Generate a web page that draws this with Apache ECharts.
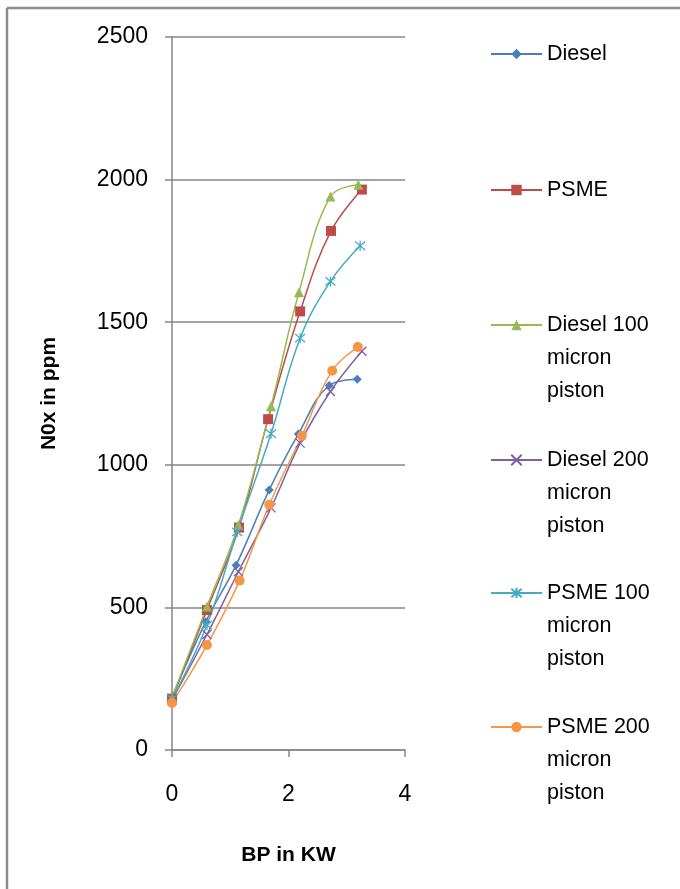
<!DOCTYPE html>
<html>
<head>
<meta charset="utf-8">
<script src="https://cdn.jsdelivr.net/npm/echarts@6/dist/echarts.min.js"></script>
<style>
  html, body { margin: 0; padding: 0; background: #fff; }
  #main { width: 680px; height: 889px; }
</style>
</head>
<body>
<div id="main"></div>
<script>
// BP in KW (x) and NOx in ppm (y) for each test
const dieselX = [0, 0.58, 1.1, 1.67, 2.17, 2.7, 3.18]
const dieselY = [185, 450, 648, 912, 1108, 1278, 1300]
const psmeX = [0, 0.6, 1.15, 1.65, 2.2, 2.73, 3.26]
const psmeY = [180, 491, 780, 1160, 1538, 1820, 1965]
const diesel100X = [0, 0.6, 1.14, 1.7, 2.18, 2.72, 3.2]
const diesel100Y = [183, 503, 789, 1205, 1605, 1941, 1982]
const diesel200X = [0, 0.6, 1.14, 1.7, 2.2, 2.72, 3.26]
const diesel200Y = [175, 405, 625, 849, 1076, 1257, 1398]
const psme100X = [0, 0.6, 1.12, 1.7, 2.2, 2.72, 3.23]
const psme100Y = [178, 438, 765, 1109, 1444, 1643, 1768]
const psme200X = [0, 0.6, 1.16, 1.67, 2.23, 2.75, 3.19]
const psme200Y = [165, 368, 594, 860, 1102, 1330, 1413]

const seriesNames = ['Diesel', 'PSME', 'Diesel 100 micron piston', 'Diesel 200 micron piston',
  'PSME 100 micron piston', 'PSME 200 micron piston']
const legendLabels = ['Diesel', 'PSME', 'Diesel 100\nmicron\npiston', 'Diesel 200\nmicron\npiston',
  'PSME 100\nmicron\npiston', 'PSME 200\nmicron\npiston']

const colors = ['#4a7ebb', '#be4b48', '#98b954', '#7d60a0', '#46aac5', '#f69546']
const symbols = ['diamond', 'rect', 'triangle',
  'path://M0,0L10,10M10,0L0,10',
  'path://M0,0L10,10M10,0L0,10M5,-1L5,11',
  'circle']
const symbolSizes = [9, 10, 10, 9, 10, 10]
const xs = [dieselX, psmeX, diesel100X, diesel200X, psme100X, psme200X]
const ys = [dieselY, psmeY, diesel100Y, diesel200Y, psme100Y, psme200Y]

const font = 'Liberation Sans, Arial, sans-serif'
const gray = '#868686'

const series = seriesNames.map((name, i) => ({
  name: name,
  type: 'line',
  smooth: 0.4,
  data: xs[i].map((x, k) => [x, ys[i][k]]),
  symbol: symbols[i],
  symbolSize: symbolSizes[i],
  showAllSymbol: true,
  lineStyle: { color: colors[i], width: 1.5 },
  itemStyle: { color: colors[i], borderColor: colors[i], borderWidth: (i === 3 || i === 4) ? 1.3 : 0 },
  emphasis: { disabled: true }
}))

// legend rows, icon centre y for each entry
const legendY = [54, 190, 325, 460, 593, 727]
const legends = seriesNames.map((name, i) => {
  const multi = legendLabels[i].indexOf('\n') >= 0
  return {
    data: [name],
    left: 490,
    top: multi ? legendY[i] - 82.5 : legendY[i] - 16.5,
    padding: 0,
    itemWidth: 51,
    itemHeight: 13,
    selectedMode: false,
    formatter: () => multi ? '\n\n' + legendLabels[i] : legendLabels[i],
    textStyle: { fontSize: 21.5, lineHeight: 33, color: '#000', fontFamily: font }
  }
})

const chart = echarts.init(document.getElementById('main'), null, { renderer: 'canvas' })
chart.setOption({
  animation: false,
  backgroundColor: '#fff',
  grid: { left: 172, top: 37, width: 233, height: 713, outerBoundsMode: 'none' },
  legend: legends,
  xAxis: {
    type: 'value',
    min: 0, max: 4, interval: 2,
    name: 'BP in KW',
    nameLocation: 'middle',
    nameGap: 95,
    nameTextStyle: { fontSize: 21, fontWeight: 'bold', color: '#000', fontFamily: font },
    axisLine: { show: true, lineStyle: { color: gray, width: 1.5 } },
    axisTick: { show: true, length: 7, lineStyle: { color: gray, width: 1.5 } },
    axisLabel: { fontSize: 23, color: '#000', margin: 33, fontFamily: font },
    splitLine: { show: false }
  },
  yAxis: {
    type: 'value',
    min: 0, max: 2500, interval: 500,
    name: 'N0x in ppm',
    nameLocation: 'middle',
    nameRotate: 90,
    nameGap: 112,
    nameTextStyle: { fontSize: 21, fontWeight: 'bold', color: '#000', fontFamily: font },
    axisLine: { show: true, lineStyle: { color: gray, width: 1.5 } },
    axisTick: { show: true, length: 7, lineStyle: { color: gray, width: 1.5 } },
    axisLabel: { fontSize: 23, color: '#000', margin: 24, fontFamily: font, formatter: v => String(v) },
    splitLine: { show: true, lineStyle: { color: gray, width: 1.5 } }
  },
  graphic: [
    { type: 'line', shape: { x1: 7, y1: 8, x2: 680, y2: 8 }, style: { stroke: '#8c8c8c', lineWidth: 2.5 } },
    { type: 'line', shape: { x1: 7, y1: 8, x2: 7, y2: 889 }, style: { stroke: '#8c8c8c', lineWidth: 2.5 } }
  ],
  series: series
})
</script>
</body>
</html>
